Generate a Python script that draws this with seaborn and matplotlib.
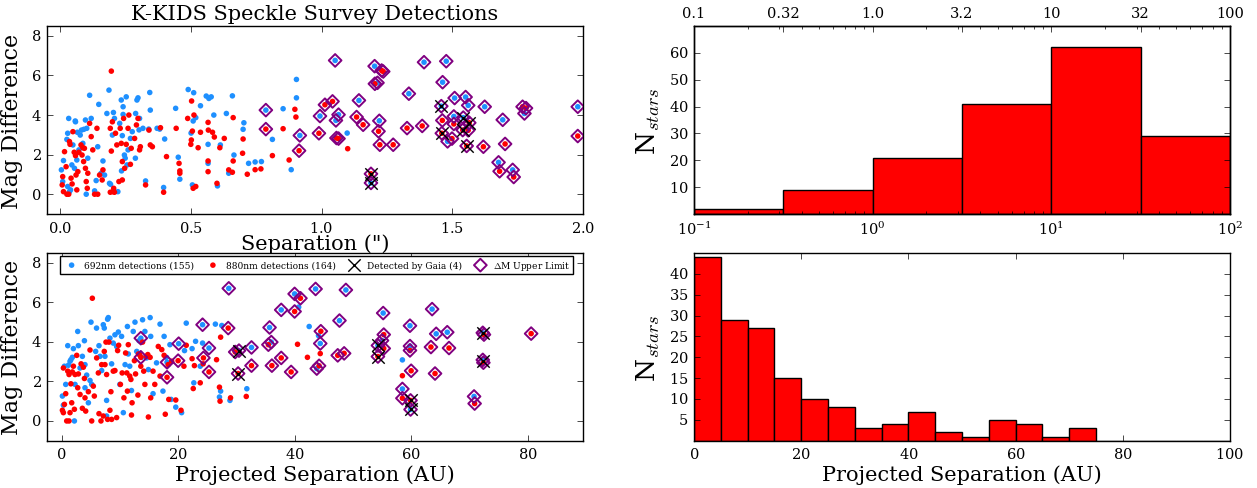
import numpy as np
import pandas as pd
import seaborn as sns
import matplotlib.pyplot as plt

# ---------------- data ----------------
# top-left panel: separation (arcsec) vs magnitude difference
blue_arc_x = [0.005, 0.013, 0.033, 0.029, 0.026, 0.010, 0.029, 0.036, 0.045, 0.049, 0.059, 0.064, 0.072,
              0.077, 0.082, 0.087, 0.097, 0.102, 0.113, 0.106, 0.119, 0.138, 0.132, 0.144, 0.148, 0.164, 0.170, 0.157, 0.100,
              0.179, 0.187, 0.189, 0.200, 0.204, 0.208, 0.221, 0.228, 0.234, 0.241, 0.241, 0.238, 0.246, 0.253, 0.256, 0.260, 0.269, 0.276,
              0.294, 0.298, 0.302, 0.304, 0.327, 0.343, 0.345, 0.371, 0.289, 0.317, 0.396, 0.400,
              0.058, 0.066, 0.091, 0.339, 0.381, 0.249, 0.288, 0.235, 0.193, 0.055, 0.040,
              0.490, 0.511, 0.442, 0.537, 0.559, 0.569, 0.578, 0.659, 0.509, 0.519, 0.501, 0.588, 0.636, 0.703, 0.700, 0.613,
              0.566, 0.665, 0.645, 0.721, 0.746, 0.770, 0.812, 0.853, 0.904, 0.904, 0.884, 0.452, 0.458, 0.506, 0.566, 0.602,
              1.098]
blue_arc_y = [1.23, 1.70, 3.83, 3.08, 2.77, 0.64, 0.39, 0.13, 1.48, 2.49, 3.66, 1.73, 2.24,
              2.99, 3.24, 2.57, 3.75, 3.33, 5.00, 1.82, 3.83, 0.69, 0.17, 2.40, 4.54, 1.68, 0.97, 1.06, 0.00,
              4.08, 5.26, 0.55, 2.99, 4.13, 3.83, 0.13, 3.58, 4.76, 4.42, 4.03, 2.96, 1.98, 4.92, 1.48, 2.24, 2.82, 3.16,
              4.76, 4.87, 3.25, 3.83, 0.67, 5.14, 4.25, 3.33, 4.08, 3.33, 0.34, 2.79,
              3.70, 3.13, 3.28, 3.29, 3.29, 1.82, 1.82, 1.18, 0.50, 1.31, 0.22,
              5.29, 5.13, 4.34, 4.47, 4.96, 4.84, 4.92, 4.97, 3.70, 3.87, 3.09, 4.00, 4.08, 3.61, 3.28, 2.49,
              2.52, 1.98, 1.06, 1.56, 1.63, 1.65, 2.77, 4.32, 5.80, 4.87, 1.24, 1.87, 0.76, 0.47, 1.56, 0.42,
              3.09]
red_arc_x = [0.008, 0.010, 0.013, 0.017, 0.023, 0.026, 0.033, 0.036, 0.038, 0.042, 0.046, 0.049, 0.054, 0.059, 0.061, 0.068, 0.072, 0.064,
             0.080, 0.087, 0.093, 0.084, 0.090, 0.097, 0.100, 0.104, 0.113, 0.119, 0.106, 0.132, 0.144, 0.141, 0.151, 0.161, 0.164, 0.125,
             0.196, 0.192, 0.196, 0.200, 0.202, 0.205, 0.212, 0.217, 0.225, 0.230, 0.234, 0.238, 0.243, 0.247, 0.253, 0.260, 0.263, 0.269,
             0.272, 0.238, 0.208, 0.192,
             0.285, 0.292, 0.298, 0.304, 0.307, 0.327, 0.340, 0.345, 0.353, 0.384, 0.396, 0.407,
             0.503, 0.488, 0.512, 0.444, 0.506, 0.537, 0.566, 0.567, 0.583, 0.590, 0.502, 0.500, 0.528, 0.662, 0.700, 0.628,
             0.611, 0.698, 0.662, 0.645, 0.659, 0.716, 0.746, 0.768, 0.812, 0.853, 0.898, 0.902, 0.876, 0.455, 0.458, 0.458,
             0.509, 0.519, 0.566, 0.566, 0.600,
             1.100]
red_arc_y = [0.47, 0.89, 0.13, 2.15, 1.39, 0.00, 0.00, 2.66, 2.52, 0.81, 0.52, 3.16, 2.12, 1.95, 0.97, 1.14, 2.12, 0.22,
             2.49, 2.35, 2.32, 1.98, 1.65, 1.31, 0.64, 0.30, 3.58, 2.91, 1.06, 0.00, 0.00, 3.33, 0.97, 0.72, 1.23, 2.24,
             6.22, 3.33, 2.18, 3.66, 0.13, 0.30, 3.08, 2.49, 0.64, 3.33, 2.57, 0.72, 3.83, 1.31, 2.52, 3.33, 4.00, 1.51,
             2.32, 1.65, 0.10, 0.10,
             2.82, 3.50, 3.83, 2.24, 2.40, 0.47, 3.24, 2.49, 2.40, 3.36, 0.10, 1.90,
             4.71, 3.83, 4.00, 3.33, 3.19, 3.13, 3.63, 3.24, 3.13, 2.89, 2.74, 2.52, 2.35, 3.87, 2.79, 2.82,
             2.35, 2.07, 1.68, 1.23, 1.11, 1.01, 1.24, 1.28, 1.95, 3.31, 4.29, 3.90, 1.73, 1.56, 1.18, 1.06,
             0.30, 0.39, 1.68, 1.14, 0.55,
             2.30]
# detections that carry a Delta-M upper limit (diamonds)
lim_blue_arc_x = [0.787, 0.917, 0.994, 1.052, 1.065, 1.055, 1.143, 1.203, 1.214, 1.221, 1.189, 1.334, 1.392, 1.477,
                  1.463, 1.458, 1.482, 1.509, 1.506, 1.551, 1.561, 1.542, 1.624, 1.693, 1.677, 1.731, 1.776, 1.980]
lim_blue_arc_y = [4.25, 2.97, 3.95, 6.76, 4.02, 3.73, 4.74, 6.47, 5.63, 3.71, 0.57, 5.08, 6.67, 6.72,
                  5.66, 4.45, 2.67, 4.86, 3.93, 4.91, 4.49, 3.87, 4.42, 3.76, 1.61, 1.23, 4.08, 4.42]
lim_red_arc_x = [0.787, 0.914, 0.990, 1.013, 1.042, 1.057, 1.065, 1.134, 1.159, 1.230, 1.236, 1.204, 1.218, 1.223,
                 1.274, 1.189, 1.327, 1.385, 1.462, 1.460, 1.499, 1.506, 1.540, 1.565, 1.561, 1.555, 1.619, 1.702,
                 1.681, 1.735, 1.769, 1.782, 1.980]
lim_red_arc_y = [3.29, 2.20, 3.08, 4.52, 4.69, 2.84, 2.81, 3.90, 3.51, 6.25, 6.20, 5.58, 3.18, 2.50,
                 2.50, 1.03, 3.34, 3.45, 3.73, 3.08, 2.81, 3.55, 3.24, 3.61, 3.23, 2.44, 2.40, 2.54,
                 1.16, 0.87, 4.42, 4.35, 2.94]
gaia_arc_x = [1.189, 1.189, 1.458, 1.460, 1.542, 1.540, 1.565, 1.555]
gaia_arc_y = [1.03, 0.57, 4.45, 3.08, 3.87, 3.24, 3.61, 2.44]

# bottom-left panel: projected separation (AU) vs magnitude difference
blue_au_x = [0.14, 0.31, 0.49, 0.71, 1.06, 1.17, 1.45, 1.60, 1.85, 2.03, 2.20, 2.31, 2.77, 2.88, 3.17, 3.57, 3.92, 4.02,
             4.02, 4.31, 4.60, 5.05, 4.88, 5.17, 5.85, 6.00, 6.42, 6.60, 6.88, 7.16, 7.33, 7.45, 7.73, 7.90, 8.02, 7.73,
             8.30, 8.59, 8.87, 9.16, 9.45, 9.74, 10.0, 10.3, 10.6, 10.9, 11.3, 11.45, 11.7, 12.0, 12.3, 12.6, 12.9, 13.3,
             13.7, 13.9, 14.3, 14.6, 14.9, 15.2, 15.3, 15.7, 16.3, 16.9, 17.4, 17.6, 18.0, 18.6, 18.8,
             21.4, 26.4, 27.5, 23.0, 24.2, 22.4, 21.1, 23.8, 22.7, 27.3, 27.1, 28.9, 31.8, 19.6, 20.6, 40.7, 42.5,
             44.1, 58.5]
blue_au_y = [1.26, 0.80, 2.77, 1.85, 3.81, 2.82, 3.02, 3.10, 3.22, 3.66, 0.00, 1.85, 4.53, 3.81, 2.68, 3.27, 4.06, 2.85,
             1.68, 2.32, 0.92, 5.00, 2.05, 1.85, 3.52, 4.70, 3.81, 3.27, 2.55, 4.87, 4.70, 3.27, 1.04, 5.15, 5.23, 0.25,
             4.19, 2.89, 3.94, 4.36, 3.77, 4.50, 1.85, 4.28, 0.42, 2.85, 4.78, 3.39, 2.77, 1.54, 4.53, 5.00, 3.52, 4.06,
             3.22, 5.12, 4.53, 3.19, 2.60, 5.23, 4.28, 1.38, 2.94, 4.90, 1.51, 4.28, 3.22, 3.86, 1.09,
             4.95, 4.90, 4.83, 4.03, 3.94, 3.66, 3.56, 2.77, 1.93, 1.51, 1.21, 1.04, 1.63, 0.70, 0.42, 5.76, 4.78,
             4.32, 3.09]
red_au_x = [0.14, 0.31, 0.31, 0.49, 0.71, 0.88, 1.06, 1.28, 1.28, 1.45, 1.60, 1.74, 1.85, 2.03, 2.20, 2.31, 2.60, 2.77,
            2.88, 3.17, 3.35, 3.57, 3.74, 3.92, 4.02, 4.14, 4.60, 4.88, 5.17, 5.28, 5.45, 5.62, 6.02, 6.31, 6.42, 6.76,
            6.88, 7.16, 7.33, 7.45, 7.62, 7.73, 7.90, 8.13, 8.30, 8.47, 8.59, 8.87, 9.16, 9.45, 9.62, 9.80, 10.1, 10.4,
            10.7, 10.99, 11.2, 11.3, 11.45, 11.7, 11.9, 12.0, 12.1, 12.5, 12.7, 13.1, 13.2, 13.4, 13.6, 13.9, 14.1, 14.3,
            14.5, 14.8, 14.9, 15.2, 15.3, 15.7, 16.0, 16.6, 16.9, 17.2, 17.6, 17.8, 18.3, 18.4, 18.9,
            27.3, 21.4, 22.4, 21.0, 22.8, 24.3, 26.6, 40.5, 42.2, 23.8, 22.6, 27.1, 27.2, 29.0, 31.7, 19.6, 20.5,
            58.5, 44.4]
red_au_y = [0.54, 2.68, 0.42, 0.84, 1.38, 0.00, 2.52, 0.00, 2.35, 0.42, 1.88, 0.92, 2.48, 2.77, 0.59, 2.35, 3.32, 1.68,
            2.38, 1.34, 2.89, 0.64, 2.72, 2.15, 1.17, 0.50, 1.48, 3.59, 0.00, 6.21, 1.76, 1.26, 3.19, 2.43, 0.37, 0.00,
            2.85, 0.25, 3.52, 2.85, 3.99, 2.35, 0.08, 3.99, 0.54, 1.48, 0.08, 2.52, 2.55, 0.17, 3.56, 3.83, 1.85, 2.43,
            1.17, 3.44, 2.43, 1.51, 3.86, 2.27, 2.10, 0.30, 0.92, 3.05, 2.38, 1.31, 3.39, 3.36, 2.77, 3.99, 2.52, 1.85,
            3.27, 3.36, 0.20, 3.22, 1.17, 2.52, 1.85, 3.77, 2.27, 3.61, 3.32, 0.34, 2.85, 1.09, 3.02,
            4.24, 3.83, 3.15, 2.77, 2.80, 2.89, 3.10, 3.88, 3.22, 1.93, 1.64, 1.71, 1.00, 1.17, 1.24, 1.06, 0.54,
            2.29, 3.41]
lim_blue_au_x = [13.6, 18.1, 28.7, 24.2, 20.1, 25.3, 30.45, 32.6, 35.7, 36.0, 37.7, 40.0, 43.6, 48.8, 47.7, 44.4, 43.8,
                 55.2, 54.3, 55.0, 59.8, 59.8, 58.5, 59.9, 63.6, 64.3, 66.2, 70.8, 72.3, 72.3]
lim_blue_au_y = [4.19, 2.97, 6.71, 4.87, 3.91, 3.69, 3.56, 3.72, 4.73, 3.99, 5.62, 6.43, 6.68, 6.63, 5.08, 3.92, 2.65,
                 5.46, 3.82, 4.07, 4.82, 3.79, 1.62, 0.58, 5.66, 4.41, 4.49, 1.24, 4.46, 3.09]
lim_red_au_x = [13.6, 18.1, 28.6, 20.0, 24.35, 25.3, 29.8, 30.3, 32.6, 35.5, 36.1, 37.7, 39.4, 41.0, 40.0, 44.5, 44.2,
                47.4, 48.5, 54.3, 55.3, 55.3, 59.8, 60.0, 58.5, 59.9, 63.4, 64.1, 66.5, 70.9, 72.5, 72.4, 80.6]
lim_red_au_y = [3.22, 2.21, 4.70, 3.05, 3.19, 2.48, 3.49, 2.40, 2.80, 3.86, 2.80, 3.19, 2.48, 6.21, 5.54, 4.54, 2.79,
                3.32, 3.42, 3.26, 4.37, 3.67, 3.57, 2.54, 1.15, 1.04, 3.74, 2.40, 3.69, 0.88, 4.37, 2.95, 4.42]
gaia_au_x = [30.45, 30.3, 54.3, 54.3, 59.9, 59.9, 72.3, 72.4]
gaia_au_y = [3.56, 2.40, 3.82, 3.26, 1.04, 0.58, 4.46, 3.02]

# histograms
arc_bin_edges = [0.1, 0.316, 1.0, 3.16, 10.0, 31.6, 100.0]
arc_top_labels = ["0.1", "0.32", "1.0", "3.2", "10", "32", "100"]
arc_counts = [2, 9, 21, 41, 62, 29]
au_bin_width = 5
au_counts = [44, 29, 27, 15, 10, 8, 3, 4, 7, 2, 1, 5, 4, 1, 3, 0, 0, 0, 0, 0]

legend_labels = ["692nm detections (155)", "880nm detections (164)",
                 "Detected by Gaia (4)", r"$\Delta$M Upper Limit"]

# ---------------- style ----------------
plt.style.use("classic")
plt.rcParams.update({
    "figure.facecolor": "white",
    "savefig.facecolor": "white",
    "font.family": "serif",
    "font.serif": ["DejaVu Serif"],
    "mathtext.fontset": "cm",
    "axes.formatter.use_mathtext": True,
    "xtick.labelsize": 10.5,
    "ytick.labelsize": 10.5,
})

BLUE = "#1e90ff"
RED = "#ff0000"
PURPLE = "#800080"
LABEL_FS = 15

fig = plt.figure(figsize=(12.57, 4.89), dpi=100)
ax_tl = fig.add_axes([0.0374, 0.5603, 0.4264, 0.3845])
ax_bl = fig.add_axes([0.0374, 0.0967, 0.4264, 0.3839])
ax_tr = fig.add_axes([0.5521, 0.5603, 0.4264, 0.3845])
ax_br = fig.add_axes([0.5521, 0.0967, 0.4264, 0.3839])


def scatter_panel(ax, bx, by, rx, ry, lbx, lby, lrx, lry, gx, gy, labels=None):
    lab = labels if labels else [None] * 4
    sns.scatterplot(x=bx + lbx, y=by + lby, color=BLUE, s=16, edgecolor="none",
                    ax=ax, legend=False, label=lab[0], zorder=3)
    sns.scatterplot(x=rx + lrx, y=ry + lry, color=RED, s=16, edgecolor="none",
                    ax=ax, legend=False, label=lab[1], zorder=3)
    sns.scatterplot(x=lbx + lrx, y=lby + lry, marker="D", facecolor="none",
                    edgecolor=PURPLE, linewidth=1.4, s=42, ax=ax, legend=False,
                    label=lab[3], zorder=4)
    sns.scatterplot(x=gx, y=gy, marker="x", color="black", s=80, linewidth=1.0,
                    ax=ax, legend=False, label=lab[2], zorder=5)
    ax.set_ylim(-1, 8.5)
    ax.set_yticks([0, 2, 4, 6, 8])
    ax.set_ylabel("Mag Difference", fontsize=LABEL_FS + 1, labelpad=6)


scatter_panel(ax_tl, blue_arc_x, blue_arc_y, red_arc_x, red_arc_y,
              lim_blue_arc_x, lim_blue_arc_y, lim_red_arc_x, lim_red_arc_y,
              gaia_arc_x, gaia_arc_y)
ax_tl.set_xlim(-0.05, 2.0)
ax_tl.set_xticks([0.0, 0.5, 1.0, 1.5, 2.0])
ax_tl.set_xlabel('Separation (")', fontsize=LABEL_FS, labelpad=-1)
ax_tl.set_title("K-KIDS Speckle Survey Detections", fontsize=LABEL_FS, pad=5)

scatter_panel(ax_bl, blue_au_x, blue_au_y, red_au_x, red_au_y,
              lim_blue_au_x, lim_blue_au_y, lim_red_au_x, lim_red_au_y,
              gaia_au_x, gaia_au_y, labels=legend_labels)
ax_bl.set_xlim(-2.5, 89.5)
ax_bl.set_xticks([0, 20, 40, 60, 80])
ax_bl.set_xlabel("Projected Separation (AU)", fontsize=LABEL_FS, labelpad=2)
handles, labs = ax_bl.get_legend_handles_labels()
order = [labs.index(l) for l in legend_labels]
ax_bl.legend([handles[i] for i in order], [labs[i] for i in order],
             loc="upper left", bbox_to_anchor=(0.024, 0.985, 0.957, 0.0),
             mode="expand", ncol=4, fontsize=6.5, scatterpoints=1,
             borderaxespad=0, handletextpad=0.4, borderpad=0.3, frameon=True)

# log-binned histogram (arcsec)
arc_centers = [float(np.sqrt(a * b)) for a, b in zip(arc_bin_edges[:-1], arc_bin_edges[1:])]
sns.histplot(x=arc_centers, weights=arc_counts, bins=np.log10(arc_bin_edges).tolist(),
             log_scale=True, color=RED, alpha=1, edgecolor="black", linewidth=1,
             ax=ax_tr)
ax_tr.set_xlim(0.1, 100)
ax_tr.set_ylim(0, 70)
ax_tr.set_yticks([10, 20, 30, 40, 50, 60])
ax_tr.set_ylabel(r"N$_{stars}$", fontsize=19)
ax_tr.set_xlabel("")
ax_top = ax_tr.twiny()
ax_top.set_xscale("log")
ax_top.set_xlim(0.1, 100)
ax_top.set_xticks(arc_bin_edges)
ax_top.set_xticklabels(arc_top_labels)

# linear histogram (AU)
au_edges = [i * au_bin_width for i in range(len(au_counts) + 1)]
au_centers = [e + au_bin_width / 2 for e in au_edges[:-1]]
sns.histplot(x=au_centers, weights=au_counts, bins=au_edges, color=RED, alpha=1,
             edgecolor="black", linewidth=1, ax=ax_br)
ax_br.set_xlim(0, 100)
ax_br.set_ylim(0, 45)
ax_br.set_yticks([5, 10, 15, 20, 25, 30, 35, 40])
ax_br.set_xticks([0, 20, 40, 60, 80, 100])
ax_br.set_ylabel(r"N$_{stars}$", fontsize=19)
ax_br.set_xlabel("Projected Separation (AU)", fontsize=LABEL_FS, labelpad=2)

fig.savefig("out.png", dpi=100)
